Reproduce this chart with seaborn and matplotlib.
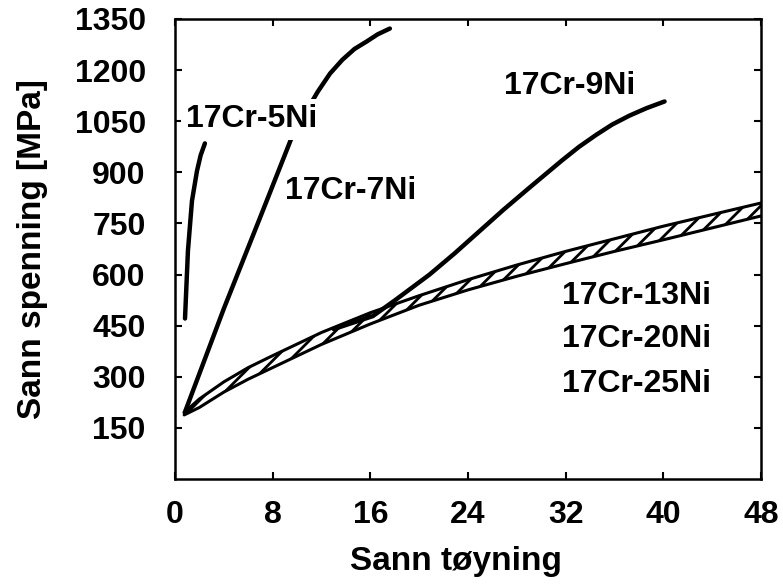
import matplotlib
matplotlib.use("Agg")
import matplotlib.pyplot as plt
import numpy as np
import pandas as pd
import seaborn as sns

# True strain (x) vs. true stress in MPa (y) for 17Cr steels of different Ni content
x_5ni = [0.82, 1.06, 1.39, 1.8, 2.1, 2.45]
y_5ni = [471, 670, 816, 904, 950, 985]

x_7ni = [0.8, 4.0, 7.0, 9.7, 11.7, 12.7, 13.7, 14.7, 15.7, 16.6, 17.6]
y_7ni = [195, 500, 770, 1015, 1137, 1190, 1230, 1262, 1284, 1305, 1322]

x_9ni = [13.0, 16.2, 18.0, 20.85, 22.9, 24.9, 26.9, 29.0, 31.7, 33.1, 34.5, 35.8, 37.2, 38.6, 40.1]
y_9ni = [440, 478, 524, 600, 662, 726, 790, 854, 935, 975, 1010, 1040, 1066, 1088, 1108]

# Scatter band shared by 13Ni, 20Ni and 25Ni
x_band = [0.75, 2, 4, 6, 8, 12, 16, 20, 24, 28, 32, 36, 40, 44, 48]
y_band_hi = [195, 235, 285, 327, 362, 430, 488, 538, 585, 628, 668, 705, 742, 776, 810]
y_band_lo = [188, 210, 255, 293, 327, 395, 455, 510, 555, 595, 632, 668, 702, 737, 772]

x_ticks = [0, 8, 16, 24, 32, 40, 48]
y_ticks = [150, 300, 450, 600, 750, 900, 1050, 1200, 1350]

labels = ["17Cr-5Ni", "17Cr-7Ni", "17Cr-9Ni", "17Cr-13Ni", "17Cr-20Ni", "17Cr-25Ni"]
label_x = [6.3, 14.35, 32.3, 37.8, 37.8, 37.8]
label_y = [1032, 822, 1129, 515, 386, 254]

sns.set_theme(style="ticks")
plt.rcParams["font.family"] = ["Liberation Sans", "DejaVu Sans"]
plt.rcParams["font.weight"] = "bold"
plt.rcParams["hatch.linewidth"] = 2.0
plt.rcParams["hatch.color"] = "black"

fig = plt.figure(figsize=(7.83, 5.85), dpi=100)
ax = fig.add_axes([175 / 783, 1 - 479 / 585, 586 / 783, 460 / 585])

curves = pd.concat([
    pd.DataFrame({"strain": x_5ni, "stress": y_5ni, "alloy": "5Ni"}),
    pd.DataFrame({"strain": x_7ni, "stress": y_7ni, "alloy": "7Ni"}),
    pd.DataFrame({"strain": x_9ni, "stress": y_9ni, "alloy": "9Ni"}),
])

# hatched band
ax.fill_between(x_band, y_band_lo, y_band_hi, facecolor="white",
                edgecolor="black", hatch="//", linewidth=0, zorder=2)
sns.lineplot(x=x_band, y=y_band_hi, color="black", lw=2.2, ax=ax, zorder=3)
sns.lineplot(x=x_band, y=y_band_lo, color="black", lw=2.2, ax=ax, zorder=3)

for name, grp in curves.groupby("alloy"):
    sns.lineplot(data=grp, x="strain", y="stress", sort=False, estimator=None,
                 color="black", lw=3.2, ax=ax, zorder=4,
                 solid_capstyle="round", solid_joinstyle="round")

for i, (txt, tx, ty) in enumerate(zip(labels, label_x, label_y)):
    kw = {}
    if i == 0:
        kw["bbox"] = dict(facecolor="white", edgecolor="none", pad=4)
    ax.text(tx, ty, txt, ha="center", va="baseline", fontsize=23,
            fontweight="bold", color="black", zorder=6, **kw)

ax.set_xlim(0, 48)
ax.set_ylim(0, 1350)
ax.set_xticks(x_ticks)
ax.set_yticks(y_ticks)
ax.set_xticklabels([str(v) for v in x_ticks], fontweight="bold")
ax.set_yticklabels([str(v) for v in y_ticks], fontweight="bold")
ax.tick_params(axis="both", direction="in", length=5, width=1.5,
               labelsize=23, colors="black", top=True, right=True)
ax.tick_params(axis="x", pad=15)
ax.tick_params(axis="y", pad=21)
for s in ax.spines.values():
    s.set_visible(True)
    s.set_linewidth(1.8)
    s.set_color("black")

ax.set_xlabel("Sann tøyning", fontsize=24, fontweight="bold", color="black")
ax.set_ylabel("Sann spenning [MPa]", fontsize=24, fontweight="bold", color="black")
ax.xaxis.set_label_coords(0.48, -0.145)
ax.yaxis.set_label_coords(-0.217, 0.5)
ax.set_facecolor("white")
fig.patch.set_facecolor("white")

fig.savefig("out.png", dpi=100)
